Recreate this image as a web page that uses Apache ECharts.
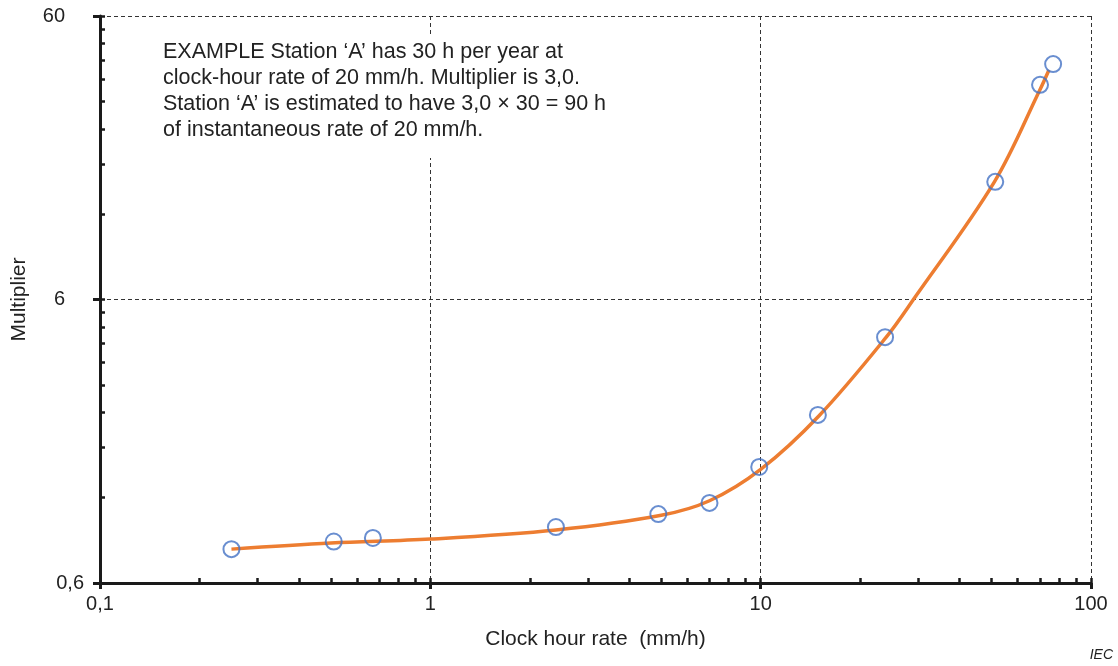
<!DOCTYPE html>
<html>
<head>
<meta charset="utf-8">
<script src="https://cdn.jsdelivr.net/npm/echarts@6/dist/echarts.min.js"></script>
<style>
  html, body { margin: 0; padding: 0; background: #fff; }
  #chart { width: 1118px; height: 666px; }
</style>
</head>
<body>
<div id="chart"></div>
<script>
// tick labels of both log axes
const rateTicks = [0.1, 1, 10, 100]
const multTicks = [0.6, 6, 60]

// measured points (circles)
const pointRate = [0.25, 0.51, 0.67, 2.4, 4.9, 7.0, 9.9, 14.9, 23.8, 51.3, 70.1, 76.8]
const pointMult = [0.79, 0.84, 0.865, 0.945, 1.05, 1.15, 1.54, 2.35, 4.42, 15.6, 34.3, 40.6]

// fitted curve
const curveRate = [0.25, 0.5, 1, 2.4, 5, 7, 10, 15, 24, 29, 51, 70, 74.6]
const curveMult = [0.79, 0.83, 0.857, 0.923, 1.04, 1.17, 1.51, 2.33, 4.42, 6.0, 15.6, 32.9, 38.7]

const note = [
  'EXAMPLE Station \u2018A\u2019 has 30 h per year at',
  'clock-hour rate of 20 mm/h. Multiplier is 3,0.',
  'Station \u2018A\u2019 is estimated to have 3,0 \u00d7 30 = 90 h',
  'of instantaneous rate of 20 mm/h.'
]

const FONT = '"Liberation Sans", Arial, sans-serif'
const INK = '#1a1a1a'

// log scales drawn on value axes: x -> log10(x), y -> log10(y / 0.6)
const lx = v => Math.log10(v)
const ly = v => Math.log10(v / multTicks[0])
const fmt = v => String(Number(v.toPrecision(3))).replace('.', ',')

// minor ticks 2..9 inside every decade
const minors = (ticks) => {
  const out = []
  for (let i = 0; i < ticks.length - 1; i++) {
    for (let k = 1; k <= 9; k++) out.push(ticks[i] * k)
  }
  out.push(ticks[ticks.length - 1])
  return out
}

const chart = echarts.init(document.getElementById('chart'))

const dashed = { show: true, lineStyle: { color: '#333', width: 1, type: [4, 3] } }

const option = {
  animation: false,
  backgroundColor: '#fff',
  grid: { left: 100, right: 27, top: 16, bottom: 83, outerBoundsMode: 'none' },
  xAxis: [
    {
      type: 'value',
      min: lx(rateTicks[0]),
      max: lx(rateTicks[rateTicks.length - 1]),
      interval: 1,
      name: 'Clock hour rate  (mm/h)',
      nameLocation: 'middle',
      nameGap: 46,
      nameTextStyle: { fontFamily: FONT, fontSize: 21, color: '#222' },
      axisLine: { onZero: false, lineStyle: { color: INK, width: 3 } },
      axisTick: { length: 6, lineStyle: { color: INK, width: 3 } },
      axisLabel: {
        margin: 11,
        fontFamily: FONT, fontSize: 20, color: '#222',
        formatter: v => fmt(Math.pow(10, v))
      },
      splitLine: dashed
    },
    {
      type: 'value',
      position: 'bottom',
      min: lx(rateTicks[0]),
      max: lx(rateTicks[rateTicks.length - 1]),
      axisLine: { show: false, onZero: false },
      axisTick: {
        inside: true, length: 5,
        lineStyle: { color: INK, width: 2.5 },
        customValues: minors(rateTicks).map(lx)
      },
      axisLabel: { show: false },
      splitLine: { show: false }
    }
  ],
  yAxis: [
    {
      type: 'value',
      min: 0,
      max: ly(multTicks[multTicks.length - 1]),
      interval: 1,
      name: 'Multiplier',
      nameLocation: 'middle',
      nameGap: 70,
      nameTextStyle: { fontFamily: FONT, fontSize: 21, color: '#222' },
      axisLine: { show: true, onZero: false, lineStyle: { color: INK, width: 3 } },
      axisTick: { show: true, length: 7, lineStyle: { color: INK, width: 3 } },
      axisLabel: {
        margin: 16,
        fontFamily: FONT, fontSize: 20, color: '#222',
        formatter: v => {
          const t = fmt(multTicks[0] * Math.pow(10, v))
          return Math.round(v) === 0 ? t : '{p|' + t + '}'
        },
        rich: { p: { fontFamily: FONT, fontSize: 20, color: '#222', padding: [0, 19, 0, 0] } }
      },
      splitLine: dashed
    },
    {
      type: 'value',
      position: 'left',
      min: 0,
      max: ly(multTicks[multTicks.length - 1]),
      axisLine: { show: false, onZero: false },
      axisTick: {
        show: true, inside: true, length: 5,
        lineStyle: { color: INK, width: 2.5 },
        customValues: minors(multTicks).map(ly)
      },
      axisLabel: { show: false },
      splitLine: { show: false }
    }
  ],
  graphic: [
    {
      type: 'rect', z: 5,
      shape: { x: 155, y: 34, width: 455, height: 124 },
      style: { fill: '#fff' }
    },
    {
      type: 'text', z: 6, x: 163, y: 39,
      style: {
        text: note.join('\n'),
        font: '21.5px ' + FONT,
        lineHeight: 26,
        fill: '#222'
      }
    },
    {
      type: 'text', z: 6, right: 5, top: 648,
      style: { text: 'IEC', font: 'italic 14px ' + FONT, fill: '#222' }
    }
  ],
  series: [
    {
      type: 'line',
      xAxisIndex: 0, yAxisIndex: 0,
      smooth: 0.35,
      showSymbol: false,
      lineStyle: { color: '#ED7D31', width: 3.5 },
      data: curveRate.map((r, i) => [lx(r), ly(curveMult[i])]),
      z: 3
    },
    {
      type: 'scatter',
      xAxisIndex: 0, yAxisIndex: 0,
      symbol: 'circle',
      symbolSize: 16,
      itemStyle: { color: 'rgba(0,0,0,0)', borderColor: '#4472C4', borderWidth: 2 },
      data: pointRate.map((r, i) => [lx(r), ly(pointMult[i])]),
      z: 4
    }
  ]
}

chart.setOption(option)
</script>
</body>
</html>
